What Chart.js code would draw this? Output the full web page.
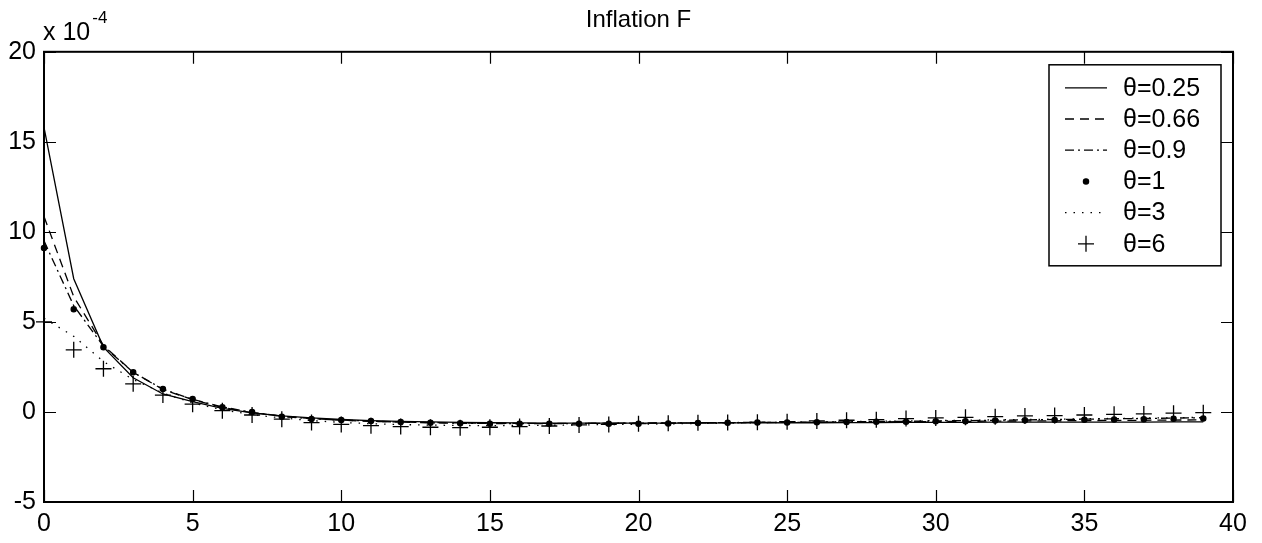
<!DOCTYPE html>
<html>
<head>
<meta charset="utf-8">
<title>Inflation F</title>
<script src="https://cdn.jsdelivr.net/npm/chart.js@4/dist/chart.umd.min.js"></script>
<style>
  html, body { margin: 0; padding: 0; background: #fff; }
  #wrap { width: 1262px; height: 543px; }
</style>
</head>
<body>
<div id="wrap"><canvas id="chart" width="1262" height="543"></canvas></div>
<script>
/* ---- Inflation F — impulse responses for several θ (values × 10^-4) ---- */

// ---- Data ----
const periods = [0, 1, 2, 3, 4, 5, 6, 7, 8, 9, 10, 11, 12, 13, 14, 15, 16, 17, 18, 19,
                 20, 21, 22, 23, 24, 25, 26, 27, 28, 29, 30, 31, 32, 33, 34, 35, 36, 37, 38, 39];

const theta025 = [15.8, 7.4, 3.6, 1.9, 1.0, 0.57, 0.2, -0.05, -0.22, -0.33, -0.42, -0.48, -0.52, -0.55, -0.58,
                  -0.6, -0.61, -0.62, -0.62, -0.62, -0.62, -0.62, -0.62, -0.61, -0.61, -0.6, -0.6, -0.59, -0.59,
                  -0.58, -0.58, -0.58, -0.57, -0.57, -0.57, -0.56, -0.56, -0.56, -0.55, -0.55];
const theta066 = [10.85, 6.4, 3.7, 2.2, 1.25, 0.68, 0.25, -0.04, -0.24, -0.37, -0.46, -0.52, -0.56, -0.59, -0.61,
                  -0.62, -0.63, -0.63, -0.63, -0.62, -0.62, -0.61, -0.6, -0.6, -0.59, -0.58, -0.57, -0.56, -0.55,
                  -0.54, -0.53, -0.52, -0.51, -0.5, -0.49, -0.48, -0.47, -0.46, -0.45, -0.44];
const theta09  = [9.5, 5.9, 3.65, 2.2, 1.27, 0.7, 0.28, -0.02, -0.24, -0.38, -0.45, -0.51, -0.56, -0.6, -0.63,
                  -0.64, -0.65, -0.65, -0.64, -0.63, -0.62, -0.61, -0.6, -0.59, -0.58, -0.57, -0.56, -0.55, -0.53,
                  -0.52, -0.5, -0.48, -0.46, -0.44, -0.42, -0.4, -0.38, -0.36, -0.34, -0.32];
const theta1   = [9.1, 5.7, 3.6, 2.2, 1.28, 0.72, 0.26, 0.0, -0.26, -0.39, -0.45, -0.5, -0.56, -0.6, -0.63,
                  -0.66, -0.66, -0.65, -0.65, -0.65, -0.65, -0.64, -0.62, -0.6, -0.59, -0.58, -0.57, -0.56, -0.55,
                  -0.54, -0.52, -0.51, -0.48, -0.46, -0.45, -0.43, -0.42, -0.4, -0.38, -0.37];
const theta3   = [5.2, 4.2, 2.8, 1.8, 1.05, 0.5, 0.12, -0.15, -0.33, -0.48, -0.58, -0.65, -0.7, -0.73, -0.75,
                  -0.76, -0.75, -0.74, -0.72, -0.7, -0.68, -0.66, -0.64, -0.62, -0.6, -0.58, -0.56, -0.54, -0.52,
                  -0.5, -0.48, -0.46, -0.44, -0.42, -0.4, -0.38, -0.36, -0.34, -0.32, -0.3];
const theta6   = [5.0, 3.45, 2.4, 1.56, 0.94, 0.43, 0.07, -0.17, -0.4, -0.59, -0.69, -0.76, -0.81, -0.85, -0.87,
                  -0.85, -0.81, -0.78, -0.72, -0.69, -0.65, -0.63, -0.6, -0.59, -0.57, -0.54, -0.5, -0.46, -0.43,
                  -0.37, -0.33, -0.3, -0.26, -0.22, -0.2, -0.17, -0.13, -0.11, -0.07, -0.04];

const seriesNames = ['θ=0.25', 'θ=0.66', 'θ=0.9', 'θ=1', 'θ=3', 'θ=6'];
const xTicks = [0, 5, 10, 15, 20, 25, 30, 35, 40];
const yTicks = [-5, 0, 5, 10, 15, 20];

const FONT = '"Liberation Sans", Arial, Helvetica, sans-serif';
const TICK_LEN = 12;

function toPoints(values) {
  return values.map((v, i) => ({ x: periods[i], y: v }));
}

// ---- Datasets (line style per θ) ----
function lineSet(label, values, dash) {
  return {
    label, data: toPoints(values),
    borderColor: '#000', backgroundColor: '#000',
    borderWidth: 1.3, borderDash: dash,
    pointRadius: 0, tension: 0, clip: false
  };
}

function markerSet(label, values, style, radius) {
  return {
    label, data: toPoints(values),
    showLine: false,
    borderColor: '#000', backgroundColor: '#000',
    pointStyle: style, pointRadius: radius, pointBorderWidth: 1.3,
    clip: false
  };
}

const datasets = [
  lineSet(seriesNames[0], theta025, []),
  lineSet(seriesNames[1], theta066, [9, 6]),
  lineSet(seriesNames[2], theta09, [9, 4, 2, 4]),
  markerSet(seriesNames[3], theta1, 'circle', 2.6),
  lineSet(seriesNames[4], theta3, [1.5, 7]),
  markerSet(seriesNames[5], theta6, 'cross', 8)
];

// ---- Axes box + inward ticks (MATLAB look) ----
const boxPlugin = {
  id: 'matlabBox',
  beforeDatasetsDraw(chart) {
    const { ctx, chartArea: a, scales } = chart;
    ctx.save();
    ctx.strokeStyle = '#000';
    ctx.lineWidth = 1.2;
    ctx.beginPath();
    xTicks.forEach(v => {
      const px = Math.round(scales.x.getPixelForValue(v)) + 0.5;
      ctx.moveTo(px, a.bottom); ctx.lineTo(px, a.bottom - TICK_LEN);
      ctx.moveTo(px, a.top);    ctx.lineTo(px, a.top + TICK_LEN);
    });
    yTicks.forEach(v => {
      const py = Math.round(scales.y.getPixelForValue(v)) + 0.5;
      ctx.moveTo(a.left, py);  ctx.lineTo(a.left + TICK_LEN, py);
      ctx.moveTo(a.right, py); ctx.lineTo(a.right - TICK_LEN, py);
    });
    ctx.stroke();
    ctx.restore();
  },
  afterDatasetsDraw(chart) {
    const { ctx, chartArea: a } = chart;
    ctx.save();
    ctx.strokeStyle = '#000';
    ctx.lineWidth = 2;
    ctx.strokeRect(a.left, a.top, a.right - a.left, a.bottom - a.top);
    // exponent label above y axis
    ctx.fillStyle = '#000';
    ctx.textBaseline = 'alphabetic';
    ctx.textAlign = 'left';
    ctx.font = '25px ' + FONT;
    ctx.fillText('x 10', a.left - 1, a.top - 12);
    const w = ctx.measureText('x 10').width;
    ctx.font = '17px ' + FONT;
    ctx.fillText('-4', a.left + w + 1, a.top - 29);
    ctx.restore();
  }
};

// ---- Legend box inside axes (top right) ----
const legendPlugin = {
  id: 'matlabLegend',
  afterDraw(chart) {
    const { ctx, chartArea: a } = chart;
    const w = 172, h = 201;
    const x0 = a.right - 12 - w, y0 = a.top + 13;
    ctx.save();
    ctx.fillStyle = '#fff';
    ctx.fillRect(x0, y0, w, h);
    ctx.strokeStyle = '#000';
    ctx.lineWidth = 1.5;
    ctx.strokeRect(x0, y0, w, h);
    ctx.font = '25px ' + FONT;
    ctx.textBaseline = 'middle';
    ctx.fillStyle = '#000';
    chart.data.datasets.forEach((ds, i) => {
      const y = y0 + 23 + i * 31.2;
      const sx0 = x0 + 16, sx1 = x0 + 58;
      if (ds.showLine === false) {
        Chart.helpers.drawPoint(ctx, {
          pointStyle: ds.pointStyle, radius: ds.pointRadius,
          rotation: 0, borderWidth: ds.pointBorderWidth
        }, (sx0 + sx1) / 2, y);
        ctx.fillStyle = '#000';
      } else {
        ctx.beginPath();
        ctx.lineWidth = ds.borderWidth;
        ctx.setLineDash(ds.borderDash);
        ctx.moveTo(sx0, y); ctx.lineTo(sx1, y);
        ctx.stroke();
        ctx.setLineDash([]);
      }
      ctx.fillText(ds.label, x0 + 74, y + 1);
    });
    ctx.restore();
  }
};

// ---- Chart ----
function initChart() {
  const canvas = document.getElementById('chart');
  new Chart(canvas, {
    type: 'line',
    data: { datasets },
    options: {
      responsive: false,
      animation: false,
      layout: { padding: { left: 0, right: 29, top: 0, bottom: 0 } },
      plugins: {
        legend: { display: false },
        tooltip: { enabled: false },
        title: {
          display: true,
          fullSize: false,   // centre over the axes box, not the canvas
          text: 'Inflation F',
          color: '#000',
          font: { family: FONT, size: 24, weight: 'normal', lineHeight: 1.2 },
          padding: { top: 6, bottom: 17 }
        }
      },
      scales: {
        x: {
          type: 'linear',
          min: xTicks[0], max: xTicks[xTicks.length - 1],
          afterBuildTicks: s => { s.ticks = xTicks.map(v => ({ value: v })); },
          afterFit: s => { s.height = 41; },
          grid: { display: false, drawTicks: false },
          border: { display: false },
          ticks: { color: '#000', padding: 7, maxRotation: 0, font: { family: FONT, size: 25 } }
        },
        y: {
          min: yTicks[0], max: yTicks[yTicks.length - 1],
          afterBuildTicks: s => { s.ticks = yTicks.map(v => ({ value: v })); },
          afterFit: s => { s.width = 44; },
          grid: { display: false, drawTicks: false },
          border: { display: false },
          ticks: { color: '#000', padding: 8, font: { family: FONT, size: 25 } }
        }
      }
    },
    plugins: [boxPlugin, legendPlugin]
  });
}

initChart();
</script>
</body>
</html>
